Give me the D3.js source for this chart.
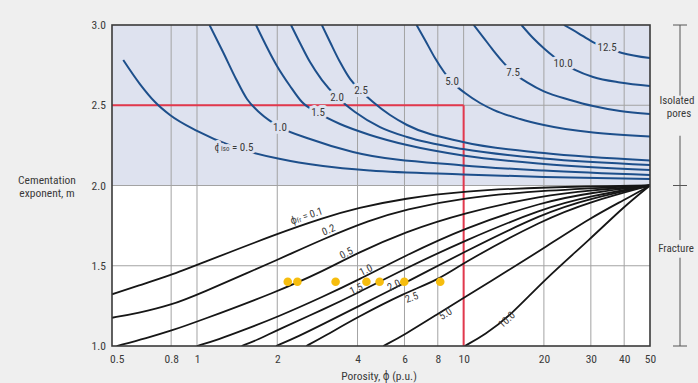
<!DOCTYPE html>
<html>
<head>
<meta charset="utf-8">
<script src="https://cdn.jsdelivr.net/npm/d3@7"></script>
<style>
  html, body { margin: 0; padding: 0; background: #efefef; }
  svg { display: block; font-family: "Liberation Sans Narrow", "Roboto Condensed", "DejaVu Sans Condensed", "Liberation Sans", sans-serif; }
</style>
</head>
<body>
<svg id="chart" width="698" height="383"></svg>
<script>
// Axis ticks
const xTicks = [0.5, 0.8, 1, 2, 4, 6, 8, 10, 20, 30, 40, 50];
const yTicks = [1.0, 1.5, 2.0, 2.5, 3.0];

// Isolated-pore porosity curves (p.u.): [porosity, m]
const isoLabels = ["0.5", "1.0", "1.5", "2.0", "2.5", "5.0", "7.5", "10.0", "12.5"];
const isoCurves = [
  [[0.529,2.782],[0.611,2.632],[0.696,2.520],[0.792,2.439],[1.0,2.340],[1.377,2.240],[2.013,2.168],[2.969,2.121],[4.46,2.093],[9.94,2.069],[20,2.053],[50,2.040]],
  [[1.114,3.0],[1.252,2.832],[1.401,2.664],[1.540,2.539],[1.723,2.452],[2.048,2.364],[2.654,2.290],[3.847,2.209],[9.94,2.125],[20,2.093],[50,2.065]],
  [[1.665,3.0],[1.995,2.745],[2.233,2.620],[2.476,2.520],[2.844,2.452],[3.439,2.383],[4.457,2.315],[6.134,2.252],[9.94,2.187],[20,2.134],[50,2.097]],
  [[2.252,3.0],[2.434,2.888],[2.654,2.769],[2.943,2.657],[3.351,2.551],[3.914,2.458],[4.858,2.364],[6.134,2.302],[9.94,2.227],[20,2.168],[50,2.128]],
  [[2.939,3.0],[3.155,2.894],[3.439,2.769],[3.750,2.664],[4.123,2.589],[4.573,2.520],[5.297,2.439],[6.134,2.377],[9.94,2.271],[20,2.202],[50,2.156]],
  [[6.66,3.0],[7.165,2.907],[7.809,2.794],[8.444,2.707],[9.047,2.645],[10.12,2.576],[11.52,2.514],[13.0,2.470],[16.28,2.414],[20,2.377],[30.58,2.330],[50,2.305]],
  [[10.91,3.0],[11.83,2.925],[12.89,2.844],[14.05,2.769],[15.32,2.704],[17.44,2.639],[20,2.586],[25.07,2.533],[30.58,2.495],[38.61,2.464],[50,2.445]],
  [[16.48,3.0],[18.21,2.919],[20.03,2.854],[21.64,2.807],[23.60,2.763],[26.17,2.720],[30.58,2.676],[38.61,2.642],[50,2.620]],
  [[23.78,3.0],[26.86,2.950],[30.31,2.897],[34.51,2.857],[39.28,2.826],[50,2.794]]
];
// porosity at which each isolated-pore label sits on its curve
const isoLabelAt = [1.377, 2.048, 2.844, 3.351, 4.123, 9.047, 15.32, 23.6, 34.51];

// Fracture porosity curves (p.u.): [porosity, m]
const fracLabels = ["0.1", "0.2", "0.5", "1.0", "1.5", "2.0", "2.5", "5.0", "10.0"];
const fracCurves = [
  [[0.48,1.322],[0.6,1.375],[0.8,1.442],[1,1.505],[2,1.70],[3,1.80],[4,1.86],[6,1.92],[10,1.965],[20,1.99],[50,2.0]],
  [[0.48,1.176],[0.6,1.205],[0.8,1.255],[1,1.318],[2,1.536],[3,1.67],[4.46,1.785],[6,1.85],[10,1.925],[20,1.97],[50,2.0]],
  [[0.5,1.0],[0.65,1.05],[0.8,1.095],[1,1.151],[2,1.338],[3,1.47],[4,1.58],[6,1.71],[10,1.83],[20,1.94],[30,1.97],[50,2.0]],
  [[1.0,1.0],[1.2,1.04],[1.5,1.10],[2,1.18],[3,1.31],[4,1.41],[6,1.56],[10,1.735],[20,1.90],[30,1.955],[50,2.0]],
  [[1.47,1.0],[1.7,1.04],[2,1.10],[3,1.23],[4,1.33],[6,1.48],[10,1.655],[20,1.86],[30,1.935],[50,2.0]],
  [[1.98,1.0],[2.4,1.06],[3,1.14],[4,1.245],[6,1.39],[10,1.585],[20,1.83],[30,1.92],[50,2.0]],
  [[2.57,1.0],[3,1.06],[4,1.18],[6,1.33],[8,1.41],[10,1.52],[20,1.79],[30,1.90],[50,2.0]],
  [[5.0,1.0],[6,1.07],[8,1.2],[10,1.30],[15,1.48],[20,1.61],[30,1.80],[40,1.91],[50,2.0]],
  [[10.1,1.0],[12,1.07],[15,1.19],[20,1.41],[30,1.67],[40,1.87],[50,2.0]]
];
// label placement along each fracture curve: porosity, and offset normal to the curve (px, negative = above)
const fracLabelAt = [2.5, 3.02, 3.5, 4.15, 3.85, 5.37, 6.56, 8.9, 15.2];
const fracLabelOffset = [-10, -9, -9, -9, -7, -5, 9, 9, 8];

// Core samples
const samplePorosity = [2.19, 2.38, 3.31, 4.32, 4.84, 5.99, 8.17];
const sampleM = [1.40, 1.40, 1.40, 1.40, 1.40, 1.40, 1.40];

// Cutoff guide
const cutoffPorosity = 10;
const cutoffM = 2.5;

const svg = d3.select("#chart");
const L = 112, R = 650, T = 25, B = 346;

const x = d3.scaleLog().domain([0.48, 50]).range([L, R]);
const y = d3.scaleLinear().domain([1, 3]).range([B, T]);

const shade = "#dee2ef";
const blue = "#1d4f8b";
const ink = "#161616";
const textCol = "#3a3a3a";

// plot background: white below m = 2, shaded isolated-pore zone above
svg.append("rect").attr("x", L).attr("y", T).attr("width", R - L).attr("height", B - T).attr("fill", "#ffffff");
svg.append("rect").attr("x", L).attr("y", y(3)).attr("width", R - L).attr("height", y(2) - y(3)).attr("fill", shade);

// grid
const grid = svg.append("g").attr("stroke", "#a3a3a3").attr("stroke-width", 1);
grid.selectAll("line.v").data(xTicks.filter(d => d > 0.5 && d < 50)).join("line")
  .attr("x1", d => x(d)).attr("x2", d => x(d)).attr("y1", T).attr("y2", B);
grid.selectAll("line.h").data([1.5, 2.0, 2.5]).join("line")
  .attr("x1", L).attr("x2", R).attr("y1", d => y(d)).attr("y2", d => y(d));

svg.append("clipPath").attr("id", "plotClip").append("rect")
  .attr("x", L).attr("y", T).attr("width", R - L).attr("height", B - T);

// cutoff guide lines
const guide = svg.append("g").attr("stroke", "#e2384d").attr("stroke-width", 2).attr("fill", "none");
guide.append("line").attr("x1", x(0.48)).attr("x2", x(cutoffPorosity)).attr("y1", y(cutoffM)).attr("y2", y(cutoffM));
guide.append("line").attr("x1", x(cutoffPorosity)).attr("x2", x(cutoffPorosity)).attr("y1", y(1)).attr("y2", y(cutoffM));

const line = d3.line().x(d => x(d[0])).y(d => y(d[1])).curve(d3.curveMonotoneX);

const curves = svg.append("g").attr("clip-path", "url(#plotClip)").attr("fill", "none");
curves.selectAll("path.iso").data(isoCurves).join("path")
  .attr("class", "iso").attr("d", line).attr("stroke", blue).attr("stroke-width", 2);
curves.selectAll("path.frac").data(fracCurves).join("path")
  .attr("class", "frac").attr("d", line.curve(d3.curveBasis)).attr("stroke", ink).attr("stroke-width", 1.8);

// m on a curve at a given porosity (linear in log porosity between read points)
function mAt(pts, phi) {
  const lp = Math.log(phi);
  for (let i = 0; i < pts.length - 1; i++) {
    const a = Math.log(pts[i][0]), b = Math.log(pts[i + 1][0]);
    if (lp >= a && lp <= b) {
      const t = (lp - a) / (b - a);
      return pts[i][1] + t * (pts[i + 1][1] - pts[i][1]);
    }
  }
  return pts[pts.length - 1][1];
}

// isolated-pore labels sit in the curve with a halo that breaks the line
const isoG = svg.append("g").attr("font-size", 11).attr("fill", textCol)
  .attr("text-anchor", "middle").attr("dominant-baseline", "central");
isoLabels.forEach((lab, i) => {
  const phi = isoLabelAt[i];
  const t = isoG.append("text")
    .attr("x", x(phi)).attr("y", y(mAt(isoCurves[i], phi)))
    .attr("stroke", shade).attr("stroke-width", 6).attr("paint-order", "stroke")
    .attr("stroke-linejoin", "round");
  if (i === 0) {
    t.append("tspan").text("ϕ");
    t.append("tspan").attr("font-size", 7).attr("dy", 2.5).text("iso");
    t.append("tspan").attr("dy", -2.5).text(" = " + lab);
  } else {
    t.text(lab);
  }
});

// fracture labels run along the curves
const fracG = svg.append("g").attr("font-size", 10.5).attr("fill", textCol)
  .attr("text-anchor", "middle").attr("dominant-baseline", "central");
fracLabels.forEach((lab, i) => {
  const phi = fracLabelAt[i];
  const pts = fracCurves[i];
  const x0 = x(phi * 0.94), y0 = y(mAt(pts, phi * 0.94));
  const x1 = x(phi * 1.06), y1 = y(mAt(pts, phi * 1.06));
  const ang = Math.atan2(y1 - y0, x1 - x0);
  const off = fracLabelOffset[i];
  const px = x(phi) + Math.sin(ang) * off;
  const py = y(mAt(pts, phi)) + Math.cos(ang) * off;
  const t = fracG.append("text")
    .attr("transform", `translate(${px},${py}) rotate(${ang * 180 / Math.PI})`);
  if (i === 0) {
    t.append("tspan").text("ϕ");
    t.append("tspan").attr("font-size", 7).attr("dy", 2.5).text("fr");
    t.append("tspan").attr("dy", -2.5).text(" = " + lab);
  } else {
    t.text(lab);
  }
});

// core sample points
svg.append("g").selectAll("circle").data(samplePorosity).join("circle")
  .attr("cx", d => x(d)).attr("cy", (d, i) => y(sampleM[i])).attr("r", 4.3)
  .attr("fill", "#f6bd0e");

// frame
svg.append("rect").attr("x", L).attr("y", T).attr("width", R - L).attr("height", B - T)
  .attr("fill", "none").attr("stroke", "#3a3a3a").attr("stroke-width", 1.6);

// axes
const xAxis = svg.append("g").attr("transform", `translate(0,${B})`)
  .call(d3.axisBottom(x).tickValues(xTicks).tickFormat(d => String(d)).tickSize(0).tickPadding(9));
const yAxis = svg.append("g").attr("transform", `translate(${L},0)`)
  .call(d3.axisLeft(y).tickValues(yTicks).tickFormat(d3.format(".1f")).tickSize(0).tickPadding(6));
[xAxis, yAxis].forEach(a => {
  a.select(".domain").remove();
  a.selectAll("text").attr("font-size", 11.5).attr("fill", textCol)
    .attr("font-family", "\"Liberation Sans Narrow\", \"Roboto Condensed\", \"DejaVu Sans Condensed\", \"Liberation Sans\", sans-serif");
});

// axis titles
svg.append("text").attr("x", 379).attr("y", 380).attr("text-anchor", "middle")
  .attr("font-size", 11.5).attr("fill", textCol).text("Porosity, ϕ (p.u.)");
const yt = svg.append("text").attr("x", 47).attr("text-anchor", "middle")
  .attr("font-size", 11.5).attr("fill", textCol);
yt.append("tspan").attr("x", 47).attr("y", 184).text("Cementation");
yt.append("tspan").attr("x", 47).attr("y", 197).text("exponent, m");

// zone bracket on the right
const bx = 680;
const br = svg.append("g").attr("stroke", "#555").attr("stroke-width", 1);
[[y(3), y(2.56)], [y(2.31), y(1.66)], [y(1.55), y(1)]].forEach(s =>
  br.append("line").attr("x1", bx).attr("x2", bx).attr("y1", s[0]).attr("y2", s[1]));
[3, 2, 1].forEach(v =>
  br.append("line").attr("x1", bx - 7).attr("x2", bx + 7).attr("y1", y(v)).attr("y2", y(v)));
const zt = svg.append("g").attr("font-size", 11).attr("fill", textCol).attr("text-anchor", "middle");
zt.append("text").attr("x", 677).attr("y", 104).text("Isolated");
zt.append("text").attr("x", 679).attr("y", 117).text("pores");
zt.append("text").attr("x", 676).attr("y", 252).text("Fracture");
</script>
</body>
</html>
